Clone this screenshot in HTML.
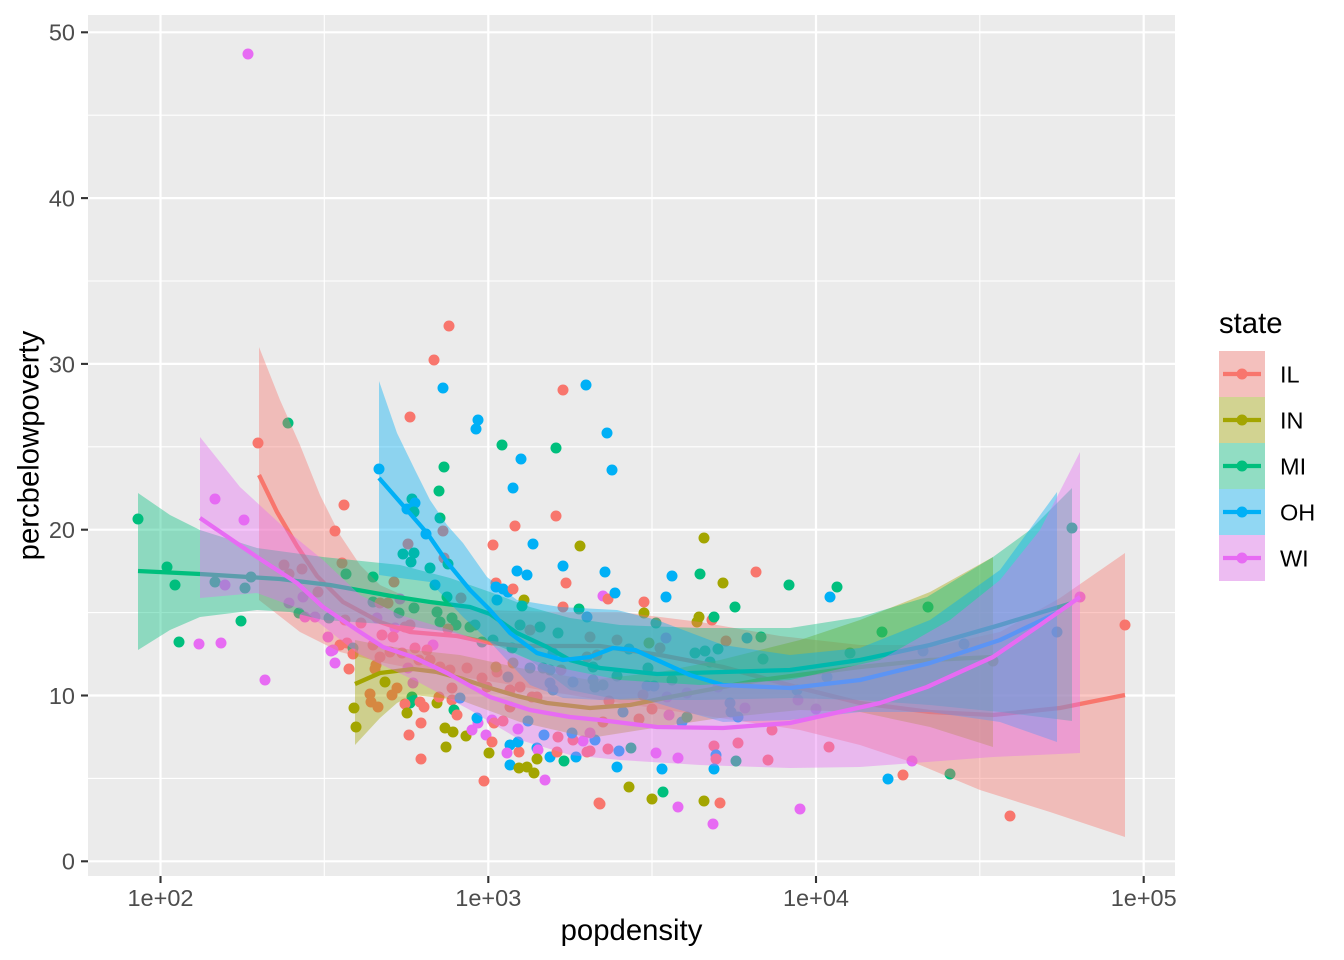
<!DOCTYPE html>
<html><head><meta charset="utf-8"><style>
html,body{margin:0;padding:0;background:#fff;}
svg{display:block;}
.r{fill:#F8766D}.o{fill:#A3A500}.g{fill:#00BF7D}.b{fill:#00B0F6}.m{fill:#E76BF3}
text{font-family:"Liberation Sans",Arial,sans-serif;}
.tl{fill:#4D4D4D;font-size:23.5px;}
.ti{fill:#000;font-size:29.3px;}
</style></head><body>
<svg width="1344" height="960" viewBox="0 0 1344 960" xmlns="http://www.w3.org/2000/svg">
<rect x="0" y="0" width="1344" height="960" fill="#fff"/>
<rect x="88" y="15" width="1087" height="861" fill="#EBEBEB"/>
<g stroke="#fff" stroke-width="1.1">
<line x1="88" x2="1175" y1="778.4" y2="778.4"/><line x1="88" x2="1175" y1="612.6" y2="612.6"/><line x1="88" x2="1175" y1="446.8" y2="446.8"/><line x1="88" x2="1175" y1="281" y2="281"/><line x1="88" x2="1175" y1="115.2" y2="115.2"/>
<line y1="15" y2="876" x1="324.3" x2="324.3"/><line y1="15" y2="876" x1="652" x2="652"/><line y1="15" y2="876" x1="979.8" x2="979.8"/>
</g>
<g stroke="#fff" stroke-width="2.2">
<line x1="88" x2="1175" y1="861.3" y2="861.3"/><line x1="88" x2="1175" y1="695.5" y2="695.5"/><line x1="88" x2="1175" y1="529.7" y2="529.7"/><line x1="88" x2="1175" y1="363.9" y2="363.9"/><line x1="88" x2="1175" y1="198.1" y2="198.1"/><line x1="88" x2="1175" y1="32.3" y2="32.3"/>
<line y1="15" y2="876" x1="160.5" x2="160.5"/><line y1="15" y2="876" x1="488.3" x2="488.3"/><line y1="15" y2="876" x1="816" x2="816"/><line y1="15" y2="876" x1="1143.7" x2="1143.7"/>
</g>
<g>
<circle cx="248" cy="54" r="5.5" class="m"/>
<circle cx="449" cy="326" r="5.5" class="r"/><circle cx="434" cy="360" r="5.5" class="r"/><circle cx="443" cy="388" r="5.5" class="b"/><circle cx="410" cy="417" r="5.5" class="r"/>
<circle cx="478" cy="420" r="5.5" class="b"/><circle cx="476" cy="429" r="5.5" class="b"/><circle cx="563" cy="390" r="5.5" class="r"/><circle cx="586" cy="385" r="5.5" class="b"/>
<circle cx="607" cy="433" r="5.5" class="b"/><circle cx="612" cy="470" r="5.5" class="b"/><circle cx="502" cy="445" r="5.5" class="g"/><circle cx="556" cy="448" r="5.5" class="g"/>
<circle cx="521" cy="459" r="5.5" class="b"/><circle cx="513" cy="488" r="5.5" class="b"/><circle cx="288" cy="423" r="5.5" class="g"/><circle cx="258" cy="443" r="5.5" class="r"/>
<circle cx="379" cy="469" r="5.5" class="b"/><circle cx="444" cy="467" r="5.5" class="g"/><circle cx="439" cy="491" r="5.5" class="g"/>
<circle cx="412" cy="499" r="5.5" class="g"/><circle cx="415" cy="503" r="5.5" class="b"/><circle cx="407" cy="509" r="5.5" class="b"/><circle cx="414" cy="512" r="5.5" class="g"/>
<circle cx="344" cy="505" r="5.5" class="r"/><circle cx="335" cy="531" r="5.5" class="r"/><circle cx="440" cy="518" r="5.5" class="g"/><circle cx="443" cy="531" r="5.5" class="r"/>
<circle cx="426" cy="534" r="5.5" class="b"/><circle cx="408" cy="544" r="5.5" class="r"/><circle cx="403" cy="554" r="5.5" class="g"/><circle cx="414" cy="553" r="5.5" class="g"/><circle cx="411" cy="562" r="5.5" class="g"/>
<circle cx="515" cy="526" r="5.5" class="r"/><circle cx="556" cy="516" r="5.5" class="r"/><circle cx="493" cy="545" r="5.5" class="r"/><circle cx="533" cy="544" r="5.5" class="b"/><circle cx="580" cy="546" r="5.5" class="o"/>
<circle cx="517" cy="571" r="5.5" class="b"/><circle cx="527" cy="575" r="5.5" class="b"/><circle cx="563" cy="566" r="5.5" class="b"/><circle cx="605" cy="572" r="5.5" class="b"/><circle cx="566" cy="583" r="5.5" class="r"/>
<circle cx="444" cy="558" r="5.5" class="r"/><circle cx="448" cy="564" r="5.5" class="g"/><circle cx="430" cy="568" r="5.5" class="g"/><circle cx="373" cy="577" r="5.5" class="g"/><circle cx="394" cy="582" r="5.5" class="r"/>
<circle cx="342" cy="563" r="5.5" class="r"/><circle cx="346" cy="574" r="5.5" class="g"/><circle cx="435" cy="585" r="5.5" class="b"/>
<circle cx="496" cy="583" r="5.5" class="r"/><circle cx="496" cy="587" r="5.5" class="b"/><circle cx="503" cy="589" r="5.5" class="b"/><circle cx="508" cy="592" r="5.5" class="b"/><circle cx="513" cy="589" r="5.5" class="r"/>
<circle cx="704" cy="538" r="5.5" class="o"/><circle cx="672" cy="576" r="5.5" class="b"/><circle cx="700" cy="574" r="5.5" class="g"/><circle cx="756" cy="572" r="5.5" class="r"/><circle cx="723" cy="583" r="5.5" class="o"/>
<circle cx="789" cy="585" r="5.5" class="g"/><circle cx="837" cy="587" r="5.5" class="g"/><circle cx="830" cy="597" r="5.5" class="b"/>
<circle cx="603" cy="596" r="5.5" class="m"/><circle cx="608" cy="599" r="5.5" class="r"/><circle cx="615" cy="593" r="5.5" class="b"/><circle cx="666" cy="597" r="5.5" class="b"/>
<circle cx="644" cy="602" r="5.5" class="r"/><circle cx="644" cy="613" r="5.5" class="o"/><circle cx="735" cy="607" r="5.5" class="g"/>
<circle cx="699" cy="617" r="5.5" class="o"/><circle cx="697" cy="622" r="5.5" class="o"/><circle cx="712" cy="620" r="5.5" class="r"/><circle cx="714" cy="617" r="5.5" class="g"/><circle cx="656" cy="623" r="5.5" class="g"/>
<circle cx="726" cy="641" r="5.5" class="r"/><circle cx="747" cy="638" r="5.5" class="b"/><circle cx="761" cy="637" r="5.5" class="g"/><circle cx="617" cy="640" r="5.5" class="r"/><circle cx="666" cy="638" r="5.5" class="m"/>
<circle cx="649" cy="643" r="5.5" class="o"/><circle cx="660" cy="648" r="5.5" class="r"/><circle cx="629" cy="649" r="5.5" class="b"/>
<circle cx="695" cy="653" r="5.5" class="g"/><circle cx="705" cy="651" r="5.5" class="g"/><circle cx="718" cy="649" r="5.5" class="g"/><circle cx="763" cy="659" r="5.5" class="g"/><circle cx="850" cy="653" r="5.5" class="g"/>
<circle cx="648" cy="668" r="5.5" class="g"/><circle cx="593" cy="667" r="5.5" class="g"/><circle cx="617" cy="676" r="5.5" class="g"/><circle cx="710" cy="662" r="5.5" class="g"/><circle cx="672" cy="680" r="5.5" class="g"/>
<circle cx="595" cy="687" r="5.5" class="g"/><circle cx="603" cy="685" r="5.5" class="g"/><circle cx="654" cy="686" r="5.5" class="b"/><circle cx="647" cy="686" r="5.5" class="b"/><circle cx="643" cy="695" r="5.5" class="r"/>
<circle cx="667" cy="697" r="5.5" class="m"/><circle cx="687" cy="693" r="5.5" class="m"/><circle cx="718" cy="687" r="5.5" class="m"/><circle cx="797" cy="690" r="5.5" class="b"/><circle cx="827" cy="677" r="5.5" class="b"/>
<circle cx="798" cy="700" r="5.5" class="m"/><circle cx="816" cy="709" r="5.5" class="m"/><circle cx="609" cy="701" r="5.5" class="r"/><circle cx="623" cy="712" r="5.5" class="b"/><circle cx="652" cy="709" r="5.5" class="r"/>
<circle cx="669" cy="715" r="5.5" class="m"/><circle cx="682" cy="722" r="5.5" class="b"/><circle cx="687" cy="717" r="5.5" class="g"/><circle cx="730" cy="703" r="5.5" class="b"/><circle cx="731" cy="712" r="5.5" class="b"/>
<circle cx="738" cy="717" r="5.5" class="b"/><circle cx="745" cy="708" r="5.5" class="m"/><circle cx="639" cy="719" r="5.5" class="r"/><circle cx="603" cy="722" r="5.5" class="r"/><circle cx="595" cy="740" r="5.5" class="b"/>
<circle cx="590" cy="733" r="5.5" class="m"/><circle cx="772" cy="730" r="5.5" class="r"/><circle cx="590" cy="751" r="5.5" class="r"/><circle cx="608" cy="749" r="5.5" class="r"/><circle cx="619" cy="751" r="5.5" class="b"/>
<circle cx="631" cy="748" r="5.5" class="g"/><circle cx="656" cy="753" r="5.5" class="m"/><circle cx="678" cy="758" r="5.5" class="m"/><circle cx="714" cy="746" r="5.5" class="r"/><circle cx="738" cy="743" r="5.5" class="r"/>
<circle cx="716" cy="755" r="5.5" class="b"/><circle cx="716" cy="759" r="5.5" class="r"/><circle cx="714" cy="769" r="5.5" class="b"/><circle cx="736" cy="761" r="5.5" class="g"/><circle cx="768" cy="760" r="5.5" class="r"/>
<circle cx="829" cy="747" r="5.5" class="r"/><circle cx="617" cy="767" r="5.5" class="b"/><circle cx="662" cy="769" r="5.5" class="b"/><circle cx="629" cy="787" r="5.5" class="o"/><circle cx="600" cy="804" r="5.5" class="r"/>
<circle cx="652" cy="799" r="5.5" class="o"/><circle cx="663" cy="792" r="5.5" class="g"/><circle cx="678" cy="807" r="5.5" class="m"/><circle cx="704" cy="801" r="5.5" class="o"/><circle cx="720" cy="803" r="5.5" class="r"/>
<circle cx="713" cy="824" r="5.5" class="m"/><circle cx="800" cy="809" r="5.5" class="m"/>
<circle cx="1072" cy="528" r="5.5" class="g"/><circle cx="1080" cy="597" r="5.5" class="m"/><circle cx="1125" cy="625" r="5.5" class="r"/><circle cx="1057" cy="632" r="5.5" class="b"/>
<circle cx="928" cy="607" r="5.5" class="g"/><circle cx="882" cy="632" r="5.5" class="g"/><circle cx="923" cy="651" r="5.5" class="b"/><circle cx="964" cy="644" r="5.5" class="b"/><circle cx="993" cy="661" r="5.5" class="o"/>
<circle cx="912" cy="761" r="5.5" class="m"/><circle cx="888" cy="779" r="5.5" class="b"/><circle cx="903" cy="775" r="5.5" class="r"/><circle cx="950" cy="774" r="5.5" class="g"/><circle cx="1010" cy="816" r="5.5" class="r"/>
<circle cx="138" cy="519" r="5.5" class="g"/><circle cx="167" cy="567" r="5.5" class="g"/><circle cx="175" cy="585" r="5.5" class="g"/><circle cx="215" cy="499" r="5.5" class="m"/><circle cx="244" cy="520" r="5.5" class="m"/>
<circle cx="215" cy="582" r="5.5" class="g"/><circle cx="225" cy="585" r="5.5" class="m"/><circle cx="245" cy="588" r="5.5" class="g"/><circle cx="251" cy="577" r="5.5" class="g"/>
<circle cx="284" cy="565" r="5.5" class="r"/><circle cx="289" cy="574" r="5.5" class="r"/><circle cx="302" cy="569" r="5.5" class="r"/><circle cx="241" cy="621" r="5.5" class="g"/><circle cx="179" cy="642" r="5.5" class="g"/>
<circle cx="199" cy="644" r="5.5" class="m"/><circle cx="221" cy="643" r="5.5" class="m"/><circle cx="265" cy="680" r="5.5" class="m"/><circle cx="289" cy="603" r="5.5" class="m"/><circle cx="303" cy="597" r="5.5" class="m"/>
<circle cx="299" cy="613" r="5.5" class="g"/><circle cx="318" cy="592" r="5.5" class="r"/><circle cx="305" cy="617" r="5.5" class="m"/><circle cx="315" cy="617" r="5.5" class="m"/><circle cx="329" cy="618" r="5.5" class="g"/>
<circle cx="373" cy="602" r="5.5" class="g"/><circle cx="380" cy="603" r="5.5" class="r"/><circle cx="388" cy="603" r="5.5" class="r"/><circle cx="400" cy="599" r="5.5" class="m"/><circle cx="399" cy="613" r="5.5" class="g"/>
<circle cx="414" cy="608" r="5.5" class="g"/><circle cx="377" cy="618" r="5.5" class="m"/><circle cx="328" cy="637" r="5.5" class="m"/><circle cx="340" cy="645" r="5.5" class="r"/><circle cx="347" cy="643" r="5.5" class="r"/>
<circle cx="331" cy="651" r="5.5" class="m"/><circle cx="335" cy="663" r="5.5" class="m"/><circle cx="353" cy="648" r="5.5" class="g"/><circle cx="353" cy="654" r="5.5" class="r"/><circle cx="349" cy="669" r="5.5" class="r"/>
<circle cx="354" cy="708" r="5.5" class="o"/><circle cx="356" cy="727" r="5.5" class="o"/><circle cx="376" cy="665" r="5.5" class="r"/><circle cx="375" cy="669" r="5.5" class="r"/>
<circle cx="447" cy="597" r="5.5" class="g"/><circle cx="461" cy="598" r="5.5" class="r"/><circle cx="524" cy="600" r="5.5" class="o"/><circle cx="522" cy="606" r="5.5" class="g"/><circle cx="497" cy="600" r="5.5" class="b"/>
<circle cx="563" cy="607" r="5.5" class="r"/><circle cx="579" cy="609" r="5.5" class="g"/><circle cx="587" cy="617" r="5.5" class="b"/><circle cx="437" cy="612" r="5.5" class="g"/><circle cx="452" cy="618" r="5.5" class="g"/>
<circle cx="440" cy="622" r="5.5" class="g"/><circle cx="361" cy="623" r="5.5" class="r"/><circle cx="345" cy="620" r="5.5" class="r"/><circle cx="395" cy="628" r="5.5" class="m"/><circle cx="405" cy="627" r="5.5" class="r"/>
<circle cx="410" cy="625" r="5.5" class="r"/><circle cx="382" cy="635" r="5.5" class="r"/><circle cx="393" cy="637" r="5.5" class="r"/><circle cx="470" cy="627" r="5.5" class="g"/><circle cx="475" cy="625" r="5.5" class="g"/>
<circle cx="456" cy="625" r="5.5" class="g"/><circle cx="448" cy="629" r="5.5" class="r"/><circle cx="493" cy="640" r="5.5" class="g"/><circle cx="540" cy="627" r="5.5" class="g"/><circle cx="520" cy="625" r="5.5" class="g"/>
<circle cx="530" cy="630" r="5.5" class="r"/><circle cx="558" cy="633" r="5.5" class="g"/><circle cx="590" cy="637" r="5.5" class="r"/><circle cx="512" cy="648" r="5.5" class="g"/><circle cx="482" cy="642" r="5.5" class="g"/>
<circle cx="513" cy="663" r="5.5" class="o"/><circle cx="530" cy="668" r="5.5" class="g"/><circle cx="543" cy="668" r="5.5" class="g"/><circle cx="550" cy="670" r="5.5" class="g"/><circle cx="561" cy="670" r="5.5" class="r"/>
<circle cx="553" cy="653" r="5.5" class="b"/><circle cx="587" cy="657" r="5.5" class="r"/><circle cx="597" cy="655" r="5.5" class="r"/><circle cx="573" cy="682" r="5.5" class="b"/><circle cx="550" cy="683" r="5.5" class="b"/>
<circle cx="553" cy="690" r="5.5" class="b"/><circle cx="593" cy="680" r="5.5" class="g"/><circle cx="595" cy="687" r="5.5" class="g"/><circle cx="433" cy="645" r="5.5" class="m"/><circle cx="415" cy="648" r="5.5" class="r"/>
<circle cx="390" cy="652" r="5.5" class="r"/><circle cx="402" cy="653" r="5.5" class="r"/><circle cx="373" cy="645" r="5.5" class="r"/><circle cx="380" cy="657" r="5.5" class="r"/><circle cx="333" cy="650" r="5.5" class="m"/>
<circle cx="419" cy="660" r="5.5" class="r"/><circle cx="430" cy="660" r="5.5" class="r"/><circle cx="427" cy="650" r="5.5" class="r"/><circle cx="408" cy="668" r="5.5" class="m"/><circle cx="440" cy="667" r="5.5" class="r"/>
<circle cx="450" cy="670" r="5.5" class="r"/><circle cx="467" cy="668" r="5.5" class="r"/><circle cx="452" cy="688" r="5.5" class="r"/><circle cx="497" cy="672" r="5.5" class="r"/><circle cx="496" cy="667" r="5.5" class="o"/>
<circle cx="508" cy="677" r="5.5" class="b"/><circle cx="482" cy="678" r="5.5" class="r"/><circle cx="487" cy="687" r="5.5" class="r"/><circle cx="520" cy="687" r="5.5" class="r"/><circle cx="510" cy="690" r="5.5" class="r"/>
<circle cx="532" cy="697" r="5.5" class="r"/><circle cx="537" cy="697" r="5.5" class="r"/><circle cx="413" cy="683" r="5.5" class="m"/><circle cx="397" cy="688" r="5.5" class="r"/><circle cx="370" cy="694" r="5.5" class="r"/>
<circle cx="371" cy="702" r="5.5" class="r"/><circle cx="392" cy="695" r="5.5" class="r"/><circle cx="385" cy="682" r="5.5" class="o"/><circle cx="378" cy="707" r="5.5" class="r"/><circle cx="412" cy="697" r="5.5" class="g"/>
<circle cx="410" cy="703" r="5.5" class="g"/><circle cx="405" cy="704" r="5.5" class="r"/><circle cx="420" cy="702" r="5.5" class="r"/><circle cx="424" cy="707" r="5.5" class="r"/><circle cx="407" cy="713" r="5.5" class="o"/>
<circle cx="437" cy="703" r="5.5" class="o"/><circle cx="439" cy="697" r="5.5" class="r"/><circle cx="452" cy="700" r="5.5" class="r"/><circle cx="460" cy="698" r="5.5" class="b"/><circle cx="454" cy="710" r="5.5" class="g"/>
<circle cx="457" cy="715" r="5.5" class="r"/><circle cx="421" cy="723" r="5.5" class="r"/><circle cx="409" cy="735" r="5.5" class="r"/><circle cx="445" cy="728" r="5.5" class="o"/><circle cx="453" cy="732" r="5.5" class="o"/>
<circle cx="466" cy="736" r="5.5" class="o"/><circle cx="446" cy="747" r="5.5" class="o"/><circle cx="421" cy="759" r="5.5" class="r"/><circle cx="472" cy="730" r="5.5" class="m"/><circle cx="478" cy="723" r="5.5" class="m"/>
<circle cx="477" cy="718" r="5.5" class="b"/><circle cx="486" cy="735" r="5.5" class="m"/><circle cx="492" cy="720" r="5.5" class="m"/><circle cx="494" cy="723" r="5.5" class="r"/><circle cx="492" cy="742" r="5.5" class="r"/>
<circle cx="510" cy="745" r="5.5" class="b"/><circle cx="507" cy="753" r="5.5" class="m"/><circle cx="489" cy="753" r="5.5" class="o"/><circle cx="519" cy="752" r="5.5" class="r"/><circle cx="510" cy="765" r="5.5" class="b"/>
<circle cx="519" cy="768" r="5.5" class="o"/><circle cx="527" cy="767" r="5.5" class="o"/><circle cx="534" cy="773" r="5.5" class="o"/><circle cx="545" cy="780" r="5.5" class="m"/><circle cx="484" cy="781" r="5.5" class="r"/>
<circle cx="518" cy="729" r="5.5" class="m"/><circle cx="518" cy="742" r="5.5" class="b"/><circle cx="537" cy="748" r="5.5" class="b"/><circle cx="538" cy="750" r="5.5" class="m"/><circle cx="537" cy="759" r="5.5" class="o"/>
<circle cx="550" cy="757" r="5.5" class="b"/><circle cx="564" cy="761" r="5.5" class="g"/><circle cx="557" cy="752" r="5.5" class="r"/><circle cx="576" cy="757" r="5.5" class="b"/><circle cx="583" cy="741" r="5.5" class="m"/>
<circle cx="587" cy="752" r="5.5" class="r"/><circle cx="544" cy="735" r="5.5" class="b"/><circle cx="558" cy="737" r="5.5" class="r"/><circle cx="573" cy="740" r="5.5" class="r"/><circle cx="572" cy="733" r="5.5" class="b"/>
<circle cx="510" cy="707" r="5.5" class="r"/><circle cx="528" cy="721" r="5.5" class="b"/><circle cx="503" cy="721" r="5.5" class="r"/><circle cx="599" cy="803" r="5.5" class="r"/>
</g>
<g fill-opacity="0.4" stroke="none">
<path fill="#F8766D" d="M259,347 L280,400 L300,445 L320,495 L340,535 L360,565 L380,585 L420,603 L480,610 L560,612 L620,612 L700,622 L780,636 L860,645 L940,645 L1000,632 L1060,598 L1125,553 L1125,837 L1050,812 L980,790 L920,765 L860,745 L800,730 L700,715 L600,700 L500,683 L420,670 L380,662 L340,652 L300,632 L259,600 Z"/>
</g>
<polyline fill="none" stroke="#F8766D" stroke-width="4.3" stroke-linejoin="round" points="259,475 277,512 297,546 317,576 343,602 380,622 410,632 457,636 490,643 520,646 560,646 600,646 660,655 723,667 800,688 860,703 930,712 993,715 1060,708 1125,695"/>
<path fill="#A3A500" fill-opacity="0.4" d="M355,640 L380,645 L413,650 L460,655 L520,668 L590,680 L660,672 L720,660 L800,640 L860,620 L930,592 L993,557 L993,747 L930,727 L860,712 L800,710 L720,718 L660,727 L590,738 L520,722 L460,700 L413,695 L397,703 L380,718 L355,745 Z"/>
<polyline fill="none" stroke="#A3A500" stroke-width="4.3" stroke-linejoin="round" points="355,684 380,673 413,669 437,672 463,679 490,688 517,696 547,703 590,708 630,705 670,697 707,690 760,680 860,667 930,660 993,657"/>
<path fill="#00BF7D" fill-opacity="0.4" d="M138,493 L170,515 L200,530 L257,548 L323,557 L400,565 L450,578 L490,592 L530,607 L570,618 L620,625 L700,628 L790,628 L860,617 L927,597 L993,557 L1030,530 L1072,488 L1072,721 L1000,712 L930,705 L860,700 L790,698 L700,700 L620,700 L570,690 L530,660 L490,642 L450,632 L400,625 L323,620 L290,612 L257,610 L200,617 L170,630 L138,650 Z"/>
<polyline fill="none" stroke="#00BF7D" stroke-width="4.3" stroke-linejoin="round" points="138,571 200,574 280,579 330,585 397,597 430,602 470,607 490,614 517,633 547,647 570,660 600,668 657,674 723,672 790,670 860,660 930,645 1000,625 1072,603"/>
<path fill="#00B0F6" fill-opacity="0.4" d="M379,381 L397,433 L415,470 L430,500 L447,525 L463,543 L487,577 L517,600 L560,607 L617,610 L657,620 L723,645 L790,655 L860,648 L930,620 L1000,570 L1057,492 L1057,742 L1000,722 L930,712 L860,712 L790,720 L723,722 L680,710 L640,698 L600,700 L563,698 L530,685 L490,642 L463,617 L430,582 L400,578 L379,575 Z"/>
<polyline fill="none" stroke="#00B0F6" stroke-width="4.3" stroke-linejoin="round" points="379,478 407,510 427,533 447,562 470,590 490,610 510,633 537,653 563,660 590,657 613,648 635,650 657,660 690,675 723,685 790,688 860,680 930,663 1000,640 1057,613"/>
<path fill="#E76BF3" fill-opacity="0.4" d="M200,437 L240,487 L290,533 L323,560 L360,595 L400,615 L450,630 L490,645 L530,660 L570,670 L620,680 L700,685 L790,680 L880,660 L950,620 L1000,580 L1040,530 L1080,452 L1080,753 L993,757 L927,762 L860,767 L790,768 L700,765 L620,760 L570,755 L520,740 L470,710 L420,683 L357,653 L303,610 L257,593 L200,598 Z"/>
<polyline fill="none" stroke="#E76BF3" stroke-width="4.3" stroke-linejoin="round" points="200,518 257,557 297,583 323,607 357,630 383,647 413,657 447,673 490,697 530,710 570,717 600,720 657,727 723,728 790,723 880,703 927,687 993,657 1040,625 1080,597"/>
<g stroke="#333" stroke-width="2.1">
<line x1="81" x2="88" y1="861.3" y2="861.3"/><line x1="81" x2="88" y1="695.5" y2="695.5"/><line x1="81" x2="88" y1="529.7" y2="529.7"/><line x1="81" x2="88" y1="363.9" y2="363.9"/><line x1="81" x2="88" y1="198.1" y2="198.1"/><line x1="81" x2="88" y1="32.3" y2="32.3"/>
<line y1="876" y2="883" x1="160.5" x2="160.5"/><line y1="876" y2="883" x1="488.3" x2="488.3"/><line y1="876" y2="883" x1="816" x2="816"/><line y1="876" y2="883" x1="1143.7" x2="1143.7"/>
</g>
<g class="tl" text-anchor="end">
<text x="75" y="869.7">0</text><text x="75" y="703.9">10</text><text x="75" y="538.1">20</text><text x="75" y="372.3">30</text><text x="75" y="206.5">40</text><text x="75" y="40.7">50</text>
</g>
<g class="tl" text-anchor="middle">
<text x="160.5" y="906">1e+02</text><text x="488.3" y="906">1e+03</text><text x="816" y="906">1e+04</text><text x="1143.7" y="906">1e+05</text>
</g>
<text class="ti" x="631.5" y="940" text-anchor="middle">popdensity</text>
<text class="ti" transform="translate(38.5,445.5) rotate(-90)" text-anchor="middle">percbelowpoverty</text>
<text class="ti" x="1219" y="333">state</text>
<rect x="1219" y="351" width="46" height="230" fill="#F2F2F2"/>
<rect x="1219" y="351" width="46" height="46" fill="#F8766D" fill-opacity="0.4"/>
<rect x="1219" y="397" width="46" height="46" fill="#A3A500" fill-opacity="0.4"/>
<rect x="1219" y="443" width="46" height="46" fill="#00BF7D" fill-opacity="0.4"/>
<rect x="1219" y="489" width="46" height="46" fill="#00B0F6" fill-opacity="0.4"/>
<rect x="1219" y="535" width="46" height="46" fill="#E76BF3" fill-opacity="0.4"/>
<g stroke-width="4.3">
<line x1="1223" x2="1261" y1="374" y2="374" stroke="#F8766D"/>
<line x1="1223" x2="1261" y1="420" y2="420" stroke="#A3A500"/>
<line x1="1223" x2="1261" y1="466" y2="466" stroke="#00BF7D"/>
<line x1="1223" x2="1261" y1="512" y2="512" stroke="#00B0F6"/>
<line x1="1223" x2="1261" y1="558" y2="558" stroke="#E76BF3"/>
</g>
<circle cx="1242" cy="374" r="5.5" class="r"/><circle cx="1242" cy="420" r="5.5" class="o"/><circle cx="1242" cy="466" r="5.5" class="g"/><circle cx="1242" cy="512" r="5.5" class="b"/><circle cx="1242" cy="558" r="5.5" class="m"/>
<g class="tl" style="fill:#000">
<text x="1280" y="382.5">IL</text><text x="1280" y="428.5">IN</text><text x="1280" y="474.5">MI</text><text x="1280" y="520.5">OH</text><text x="1280" y="566.5">WI</text>
</g>
</svg>
</body></html>
